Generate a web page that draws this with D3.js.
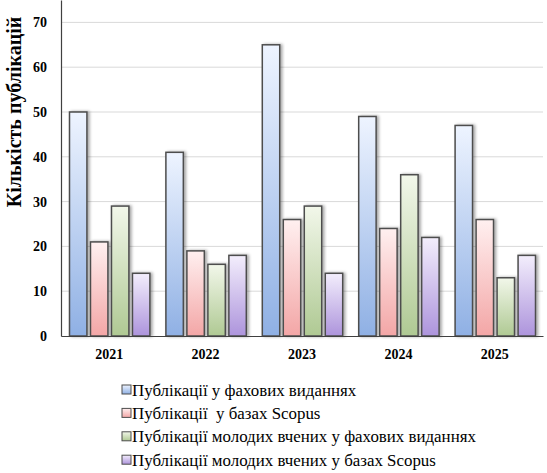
<html>
<head>
<script src="https://cdn.jsdelivr.net/npm/d3@7"></script>
<style>
body { margin: 0; background: #fff; }
svg text { font-family: "Times New Roman", Times, "Liberation Serif", "DejaVu Serif", serif !important; }
</style>
</head>
<body>
<svg></svg>
<script>
var width = 547;
var height = 473;

var years = ["2021", "2022", "2023", "2024", "2025"];
var seriesNames = [
  "Публікації у фахових виданнях",
  "Публікації  у базах Scopus",
  "Публікації молодих вчених у фахових виданнях",
  "Публікації молодих вчених у базах Scopus"
];
var profJournals = [50, 41, 65, 49, 47];
var scopus = [21, 19, 26, 24, 26];
var youngProf = [29, 16, 29, 36, 13];
var youngScopus = [14, 18, 14, 22, 18];
var yTicks = [0, 10, 20, 30, 40, 50, 60, 70];

var seriesValues = [profJournals, scopus, youngProf, youngScopus];
var colors = [
  {top: "#eef4ff", bottom: "#8fb0e4"},
  {top: "#fff0f0", bottom: "#f3a6a6"},
  {top: "#f2f7ea", bottom: "#afc993"},
  {top: "#f3eefc", bottom: "#ad94dc"}
];

var margin = {left: 61, right: 4, top: 0, bottom: 137};

var svg = d3.select("svg").attr("width", width).attr("height", height);

var defs = svg.append("defs");
colors.forEach(function(c, i) {
  var g = defs.append("linearGradient").attr("id", "grad" + i)
    .attr("x1", 0).attr("y1", 0).attr("x2", 0).attr("y2", 1);
  g.append("stop").attr("offset", "0%").attr("stop-color", c.top);
  g.append("stop").attr("offset", "100%").attr("stop-color", c.bottom);
});
var f = defs.append("filter").attr("id", "shadow")
  .attr("x", "-30%").attr("y", "-10%").attr("width", "160%").attr("height", "120%");
f.append("feDropShadow").attr("dx", 2).attr("dy", 0).attr("stdDeviation", 1.5)
  .attr("flood-color", "#000").attr("flood-opacity", 0.35);

var x = d3.scaleBand().domain(years).range([margin.left, width - margin.right]).paddingInner(0).paddingOuter(0);
var x1 = d3.scaleBand().domain(d3.range(seriesNames.length))
  .range([8.5, x.bandwidth() - 7.5]).paddingInner(0.17);
var y = d3.scaleLinear().domain([0, 75]).range([height - margin.bottom, margin.top]);

// gridlines
svg.append("g").selectAll("line").data(yTicks.slice(1)).enter().append("line")
  .attr("x1", margin.left).attr("x2", width - margin.right)
  .attr("y1", function(d) { return y(d); }).attr("y2", function(d) { return y(d); })
  .attr("stroke", "#d9d9d9").attr("stroke-width", 1);

// bars
var groups = svg.append("g").selectAll("g").data(years).enter().append("g")
  .attr("transform", function(d) { return "translate(" + x(d) + ",0)"; });

groups.selectAll("rect").data(function(d, i) {
  return seriesValues.map(function(s, k) { return {k: k, v: s[i]}; });
}).enter().append("rect")
  .attr("x", function(d) { return x1(d.k); })
  .attr("y", function(d) { return y(d.v); })
  .attr("width", x1.bandwidth())
  .attr("height", function(d) { return y(0) - y(d.v); })
  .attr("fill", function(d) { return "url(#grad" + d.k + ")"; })
  .attr("stroke", "#4d4d4d").attr("stroke-width", 1.5)
  .attr("filter", "url(#shadow)");

// y axis
var yAxis = svg.append("g").attr("transform", "translate(" + margin.left + ",0)")
  .call(d3.axisLeft(y).tickValues(yTicks).tickSize(0).tickPadding(14));
yAxis.select(".domain").attr("stroke", "#404040").attr("stroke-width", 1.2);
yAxis.selectAll("text").attr("font-size", 14).attr("font-weight", "bold").attr("fill", "#000");

// x axis
var xAxis = svg.append("g").attr("transform", "translate(0," + y(0) + ")")
  .call(d3.axisBottom(x).tickSize(0).tickPadding(13));
xAxis.select(".domain").attr("stroke", "#404040").attr("stroke-width", 1.2);
xAxis.selectAll("text").attr("font-size", 14).attr("font-weight", "bold").attr("fill", "#000");

// y title
svg.append("text")
  .attr("transform", "translate(21," + 112 + ") rotate(-90)")
  .attr("text-anchor", "middle")
  .attr("font-size", 20).attr("font-weight", "bold")
  .text("Кількість публікацій");

// legend
var legend = svg.append("g").selectAll("g").data(seriesNames).enter().append("g")
  .attr("transform", function(d, i) { return "translate(122," + (390 + i * 23.4) + ")"; });
legend.append("rect").attr("x", 0).attr("y", -5).attr("width", 9).attr("height", 9)
  .attr("fill", function(d, i) { return "url(#grad" + i + ")"; })
  .attr("stroke", "#4d4d4d").attr("stroke-width", 1);
legend.append("text").attr("x", 10).attr("y", 5.5)
  .style("white-space", "pre")
  .attr("font-size", 16.9).text(function(d) { return d; });
</script>
</body>
</html>
